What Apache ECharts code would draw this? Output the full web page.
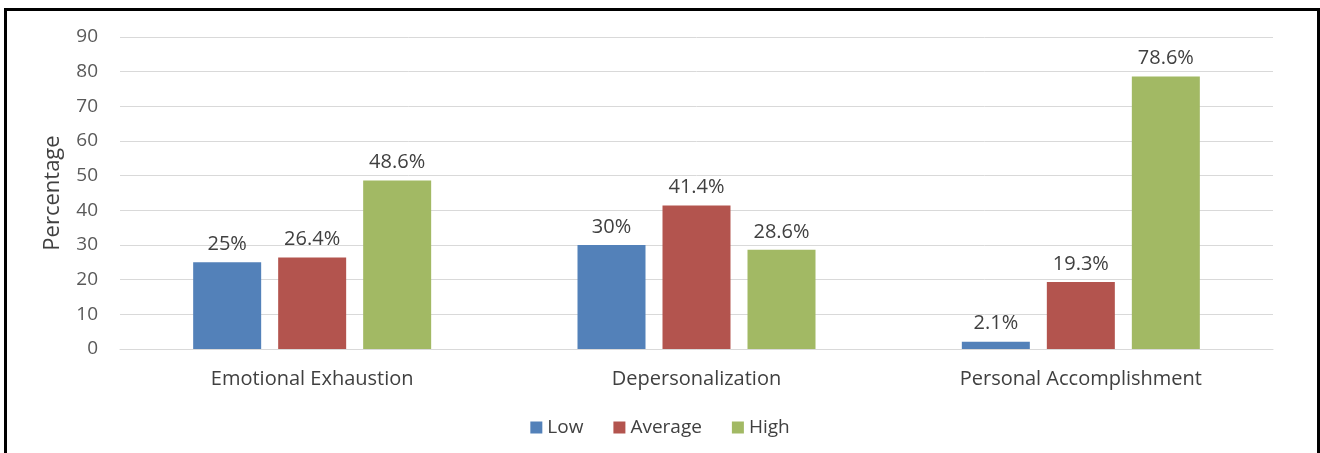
<!DOCTYPE html>
<html>
<head>
<meta charset="utf-8">
<script src="https://cdn.jsdelivr.net/npm/echarts@6/dist/echarts.min.js"></script>
<style>
  html, body { margin: 0; padding: 0; background: #fff; }
  #wrap { position: relative; width: 1320px; height: 453px; overflow: hidden; }
  #frame { position: absolute; left: 4px; top: 8px; width: 1310px; height: 460px;
           border: 3px solid #000; box-sizing: content-box; pointer-events: none; }
  #chart { position: absolute; left: 0; top: 0; width: 1320px; height: 453px; }
</style>
</head>
<body>
<div id="wrap">
  <div id="chart"></div>
  <div id="frame"></div>
</div>
<script>
// Burnout dimensions and the share of respondents at each level
const categories = ['Emotional Exhaustion', 'Depersonalization', 'Personal Accomplishment'];
const lowValues = [25, 30, 2.1];
const averageValues = [26.4, 41.4, 19.3];
const highValues = [48.6, 28.6, 78.6];
const seriesNames = ['Low', 'Average', 'High'];
const yTicks = { min: 0, max: 90, interval: 10 };

const colors = ['#5381B9', '#B3544E', '#A2B964'];
const font = '"Open Sans", "Noto Sans", sans-serif';

function barSeries(name, data, color) {
  return {
    name: name,
    type: 'bar',
    data: data,
    barWidth: 68,
    barGap: '25%',
    itemStyle: { color: color },
    label: {
      show: true,
      position: 'top',
      distance: 8,
      formatter: p => p.value + '%',
      color: '#404040',
      fontSize: 20,
      fontFamily: font
    }
  };
}

const chart = echarts.init(document.getElementById('chart'), null, { renderer: 'canvas' });
chart.setOption({
  animation: false,
  color: colors,
  grid: { left: 120, right: 47, top: 37, bottom: 104 },
  legend: {
    data: seriesNames,
    bottom: 11,
    left: 'center',
    itemWidth: 12,
    itemHeight: 12,
    itemGap: 30,
    icon: 'rect',
    textStyle: { color: '#404040', fontSize: 19, fontFamily: font }
  },
  xAxis: {
    type: 'category',
    data: categories,
    axisLine: { show: true, lineStyle: { color: '#D9D9D9', width: 1 } },
    axisTick: { show: false },
    axisLabel: { color: '#404040', fontSize: 20, margin: 20, fontFamily: font }
  },
  yAxis: {
    type: 'value',
    min: yTicks.min,
    max: yTicks.max,
    interval: yTicks.interval,
    name: 'Percentage',
    nameLocation: 'middle',
    nameGap: 56,
    nameRotate: 90,
    nameTextStyle: { color: '#404040', fontSize: 22, fontFamily: font },
    axisLine: { show: false },
    axisTick: { show: false },
    axisLabel: { color: '#595959', fontSize: 19, margin: 22, fontFamily: font },
    splitLine: { lineStyle: { color: '#D9D9D9', width: 1 } }
  },
  series: [
    barSeries(seriesNames[0], lowValues, colors[0]),
    barSeries(seriesNames[1], averageValues, colors[1]),
    barSeries(seriesNames[2], highValues, colors[2])
  ]
});
</script>
</body>
</html>
